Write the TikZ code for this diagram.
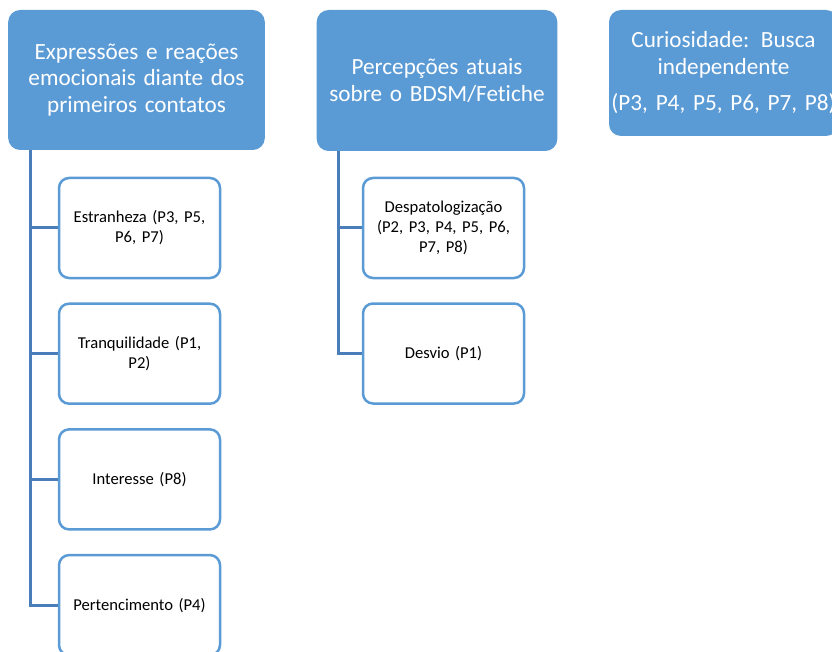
\documentclass[tikz,border=0pt]{standalone}
\usepackage{fontspec}
\setmainfont{Carlito}[Ligatures=NoCommon,WordSpace=0.85]
\usetikzlibrary{trees}
\definecolor{hblue}{HTML}{5B9BD5}
\definecolor{lblue}{HTML}{4A7EBB}
\begin{document}
\begin{tikzpicture}[x=1pt,y=-1pt]
  \tikzstyle{every node}=[align=center]
  \tikzstyle{head}=[fill=hblue,rounded corners=12pt,text=white,font=\fontsize{23.2}{26.5}\selectfont]
  \tikzstyle{sub}=[draw=hblue,line width=2.5pt,rounded corners=10pt,fill=white,text=black,
    minimum width=161pt,minimum height=100pt,text width=154pt,font=\fontsize{16.6}{20}\selectfont]
  \tikzstyle{edge from parent}=[draw=lblue,line width=3pt]
  \useasboundingbox (0,0) rectangle (832,652);
  \node[head,minimum width=255pt,minimum height=140pt,text width=250pt] (expr) at (136.5,80)
    {Expressões e reações\\emocionais diante dos\\primeiros contatos}
    [grow via three points={one child at (3,148) and two children at (3,148) and (3,273.7)},
     edge from parent path={([xshift=23pt]\tikzparentnode.south west) |- (\tikzchildnode.west)}]
    child {node[sub] (estr) {Estranheza (P3, P5,\\P6, P7)}}
    child {node[sub] (tranq) {Tranquilidade (P1,\\P2)}}
    child {node[sub] (inter) {Interesse (P8)}}
    child {node[sub] (pert) {Pertencimento (P4)}};
  \node[head,minimum width=238pt,minimum height=141pt,text width=234pt] (perc) at (437,80.5)
    {Percepções atuais\\sobre o BDSM/Fetiche}
    [grow via three points={one child at (6.5,147.5) and two children at (6.5,147.5) and (6.5,273)},
     edge from parent path={([xshift=22pt]\tikzparentnode.south west) |- (\tikzchildnode.west)}]
    child {node[sub] (despat) {Despatologização\\(P2, P3, P4, P5, P6,\\P7, P8)}}
    child {node[sub] (desvio) {Desvio (P1)}};
  \node[head,minimum width=229pt,minimum height=126pt,text width=220pt] (curio) at (723.5,73)
    {Curiosidade: Busca\\independente\\[10pt]\makebox[220pt][c]{(P3, P4, P5, P6, P7, P8)}};
\end{tikzpicture}
\end{document}
